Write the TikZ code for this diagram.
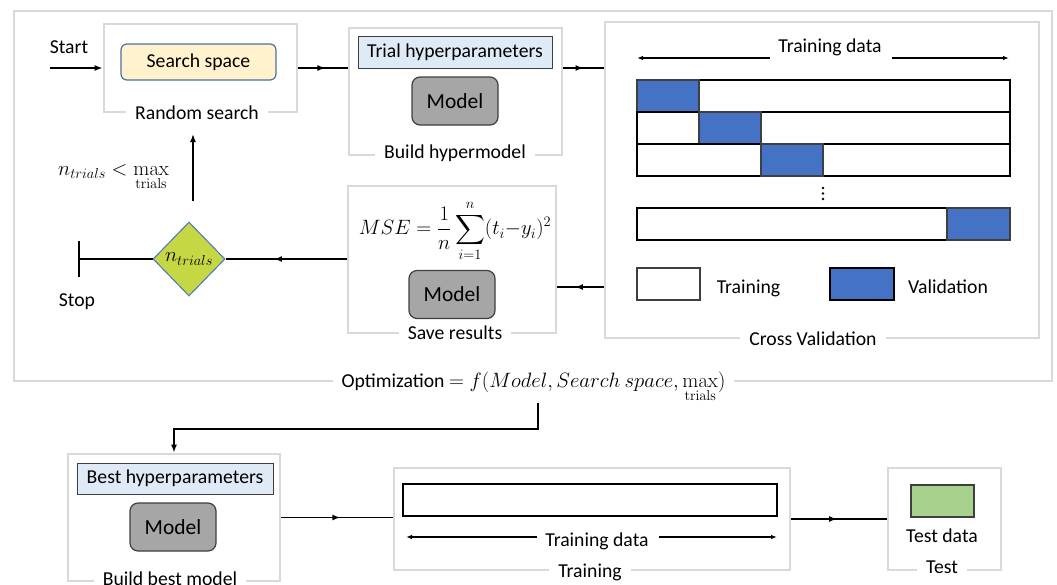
\documentclass[tikz,border=0pt]{standalone}
\usepackage{amsmath}
\usepackage[no-math]{fontspec}
\setmainfont{Carlito}
\usetikzlibrary{arrows.meta,shapes.geometric,decorations.markings,calc}

\definecolor{framegray}{HTML}{D9D9D9}
\definecolor{cvblue}{HTML}{4472C4}
\definecolor{sandfill}{HTML}{FFF2CC}
\definecolor{sandline}{HTML}{4A6FA5}
\definecolor{paleblue}{HTML}{DEEBF7}
\definecolor{modelgray}{HTML}{A6A6A6}
\definecolor{diafill}{HTML}{C5D844}
\definecolor{testgreen}{HTML}{A9D18E}
\definecolor{edgegray}{HTML}{3F3F3F}

\newcommand\fsz{\fontsize{19.7}{23.6}\selectfont}
\newcommand\msz{\fontsize{21.5}{25}\selectfont}

\tikzset{
  stage/.style={draw=framegray, line width=2.6pt, inner sep=0pt},
  stagelabel/.style={fill=white, inner xsep=9pt, inner ysep=3pt, anchor=base},
  hyperbox/.style={draw=edgegray, fill=paleblue, line width=1pt, inner sep=0pt},
  modelbox/.style={draw=edgegray, fill=modelgray, line width=1.2pt, rounded corners=8pt,
    inner sep=0pt, minimum width=86pt, minimum height=48pt, font=\msz},
  conn/.style={line width=1.5pt},
  tipend/.style={-{Latex[length=8pt,width=6pt]}},
  smalltip/.style={-{Latex[length=6pt,width=4.5pt]}},
  midarrow/.style={postaction={decorate}, decoration={markings,
    mark=at position #1 with {\arrow{Latex[length=8pt,width=6pt]}}}},
  midarrow/.default=0.5,
  cell/.style={draw=black, line width=1.2pt, fill=white},
  valcell/.style={draw=edgegray, line width=1.2pt, fill=cvblue},
  plain/.style={anchor=base, inner sep=0pt}
}

\begin{document}
\begin{tikzpicture}[x=1pt, y=-1pt, every node/.style={font=\fsz}]
\useasboundingbox (0,0) rectangle (1057,584);

% ---- outer optimisation frame ----
\node[stage, minimum width=1038pt, minimum height=370pt] (opt) at (533,196) {};

% ---- random search ----
\node[stage, minimum width=193pt, minimum height=88pt] (rs) at (200.5,68) {};
\node[draw=sandline, fill=sandfill, line width=1.2pt, rounded corners=6pt,
      minimum width=155pt, minimum height=36pt, inner sep=0pt] (ss) at (198.5,62) {Search space};
\node[stagelabel] (rslab) at (197,119) {Random search};

% ---- build hypermodel ----
\node[stage, minimum width=213pt, minimum height=127pt] (bh) at (455.5,91.5) {};
\node[hyperbox, minimum width=194pt, minimum height=32pt] (th) at (455,52) {Trial hyperparameters};
\node[modelbox] (m1) at (455,101) {Model};
\node[stagelabel] (bhlab) at (455,158) {Build hypermodel};

% ---- cross validation ----
\node[stage, minimum width=434pt, minimum height=316pt] (cv) at (822,180) {};
\node[plain] (cvtd) at (830,52) {Training data};
\coordinate (cvl1) at (770,58); \coordinate (cvl2) at (637,58);
\coordinate (cvr1) at (892,58); \coordinate (cvr2) at (1009,58);
\draw[conn, line width=1.2pt, smalltip] (cvl1) -- (cvl2);
\draw[conn, line width=1.2pt, smalltip] (cvr1) -- (cvr2);
% folds
\draw[cell] (637,80) rectangle (1010,112);
\draw[valcell] (637,80) rectangle (699,112);
\draw[cell] (637,112) rectangle (1010,144);
\draw[valcell] (699,112) rectangle (761,144);
\draw[cell] (637,144) rectangle (1010,176);
\draw[valcell] (761,144) rectangle (823,176);
\foreach \yy in {188,193.5,199} \fill (823,\yy) circle (1.3pt);
\draw[cell] (637,208) rectangle (1010,240);
\draw[valcell] (947,208) rectangle (1010,240);
% legend
\draw[cell, draw=edgegray] (637,268) rectangle (700,300);
\node[plain] (legtr) at (748.5,293) {Training};
\draw[valcell, draw=black] (830,268) rectangle (894,300);
\node[plain] (legval) at (948,293) {Validation};
\node[stagelabel] (cvlab) at (813,345) {Cross Validation};

% ---- save results ----
\node[stage, minimum width=208pt, minimum height=147pt] (sr) at (452,259.5) {};
\node[inner sep=0pt] (mse) at (455,231) {$\displaystyle MSE=\frac{1}{n}\sum_{i=1}^{n}(t_i{-}y_i)^2$};
\node[modelbox] (m2) at (452,294.5) {Model};
\node[stagelabel] (srlab) at (455,339) {Save results};

% ---- decision ----
\node[diamond, draw=cvblue, fill=diafill, line width=1pt, inner sep=0pt, aspect=1,
      minimum width=72pt, minimum height=74pt] (dia) at (189,259) {$n_{trials}$};
\node[plain] (cond) at (113.5,175) {$n_{trials}<\max\limits_{\mathrm{trials}}$};
\node[plain] (stop) at (77,306) {Stop};
\coordinate (stopend) at (78,259);
\coordinate (upA) at (193,201);
\coordinate (upB) at (193,134);

% ---- start ----
\node[plain] (start) at (69,53) {Start};
\coordinate (startpt) at (50,68);

% ---- optimisation label ----
\node[stagelabel] (optlab) at (533.5,387)
  {Optimization $= f(Model,Search\ space,\max\limits_{\mathrm{trials}})$};

% ---- final model stage ----
\node[stage, minimum width=212pt, minimum height=127pt] (bb) at (174,517.5) {};
\node[hyperbox, minimum width=196pt, minimum height=31pt] (bhp) at (175,478.5) {Best hyperparameters};
\node[modelbox] (m3) at (173,527) {Model};
\node[stagelabel] (bblab) at (170,585) {Build best model};

\node[stage, minimum width=396pt, minimum height=102pt] (tr) at (592,519) {};
\draw[cell] (403,484) rectangle (777,516);
\node[plain] (trtd) at (597,546) {Training data};
\coordinate (trl1) at (537,537); \coordinate (trl2) at (406,537);
\coordinate (trr1) at (659,537); \coordinate (trr2) at (777,537);
\draw[conn, line width=1.2pt, smalltip] (trl1) -- (trl2);
\draw[conn, line width=1.2pt, smalltip] (trr1) -- (trr2);
\node[stagelabel] (trlab) at (590,577) {Training};

\node[stage, minimum width=113pt, minimum height=102pt] (te) at (944.5,519) {};
\node[draw=edgegray, fill=testgreen, line width=1.2pt, inner sep=0pt,
      minimum width=63pt, minimum height=32pt] (tdata) at (942.5,501) {};
\node[plain] (telab2) at (942,542) {Test data};
\node[stagelabel] (telab) at (942,573) {Test};

% ---- connectors ----
\draw[conn, tipend] (startpt) -- (startpt -| rs.west);
\draw[conn, midarrow=0.55] (rs.east) -- (rs.east -| bh.west);
\draw[conn, midarrow] (rs.east -| bh.east) -- (rs.east -| cv.west);
\draw[conn, midarrow=0.62] (cv.west |- 0,287) -- (sr.east |- 0,287);
\draw[conn, midarrow=0.6] (sr.west |- dia.east) -- (dia.east);
\draw[conn, -{Bar[width=36pt]}] (dia.west) -- (stopend);
\draw[conn, tipend] (upA) -- (upB);
\coordinate (o1) at (538,403);
\coordinate (o2) at (538,429);
\draw[conn, tipend] (o1) -- (o2) -| (bb.north);
\draw[conn, midarrow=0.53] (bb.east) -- (bb.east -| tr.west);
\draw[conn, midarrow=0.48] (tr.east) -- (tr.east -| te.west);
\end{tikzpicture}
\end{document}
